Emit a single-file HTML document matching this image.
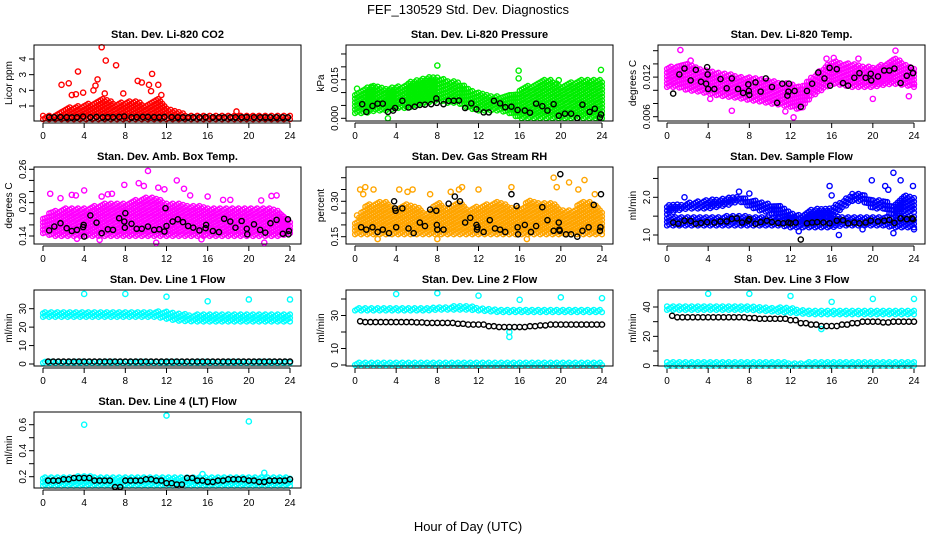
<!DOCTYPE html>
<html><head><meta charset="utf-8"><style>
body{margin:0;background:#fff;}
svg{display:block;font-family:"Liberation Sans",Arial,sans-serif;}
</style></head><body>
<svg id="chart" width="936" height="540" viewBox="0 0 936 540">
<rect width="936" height="540" fill="#fff"/>
<text x="468" y="14" text-anchor="middle" font-size="13">FEF_130529  Std. Dev. Diagnostics</text>
<text x="468" y="531" text-anchor="middle" font-size="13">Hour of Day (UTC)</text>
</svg>
<script>
// ---------- data ----------
const bandHours = [0,1,2,3,4,5,6,7,8,9,10,11,12,13,14,15,16,17,18,19,20,21,22,23,24];
// P1 CO2
const co2BandLo = [0.15,0.15,0.15,0.15,0.15,0.15,0.15,0.15,0.15,0.15,0.15,0.15,0.15,0.15,0.15,0.15,0.15,0.15,0.15,0.15,0.15,0.15,0.15,0.15,0.15];
const co2BandHi = [0.4,0.45,0.8,1.0,1.1,1.3,1.5,1.2,1.3,1.4,1.0,1.6,0.9,0.7,0.45,0.45,0.45,0.45,0.45,0.45,0.45,0.45,0.45,0.45,0.4];
const co2OutX = [1.8,2.5,3.4,5.7,6.1,7.1,9.2,9.6,10.3,10.6,10.5,11.2,5.3,5.1,4.9,2.8,3.9,7.8,18.8,3.2,11.5,6.0];
const co2OutY = [2.35,2.45,3.2,4.75,3.9,3.6,2.6,2.5,2.35,3.05,1.95,2.35,2.7,2.3,2.0,1.7,1.85,1.8,0.65,1.75,1.7,1.8];
const co2BlackX = [0.6,1.1,1.7,2.3,2.8,3.3,3.9,4.6,5.2,5.8,6.3,6.8,7.4,7.9,8.6,9.1,9.7,10.2,10.8,11.3,11.8,12.5,13.1,13.6,14.1,14.6,15.2,15.8,16.5,17.1,17.6,18.2,18.7,19.3,19.8,20.5,21.1,21.6,22.1,22.7,23.3,23.8];
const co2BlackY = [0.28,0.28,0.29,0.28,0.27,0.28,0.32,0.28,0.3,0.28,0.29,0.29,0.3,0.33,0.28,0.29,0.3,0.3,0.29,0.28,0.3,0.29,0.28,0.28,0.27,0.28,0.28,0.29,0.28,0.28,0.27,0.28,0.28,0.28,0.29,0.28,0.28,0.28,0.28,0.28,0.28,0.27];
// P2 Pressure
const presBandLo = [0.002,0.002,0.003,0.003,0.004,0.004,0.005,0.006,0.007,0.006,0.006,0.004,0.003,0.003,0.003,0.002,0.0,0.0,0.0,0.0,0.0,0.0,0.0,0.0,0.0];
const presBandHi = [0.010,0.012,0.013,0.012,0.012,0.014,0.015,0.016,0.016,0.015,0.014,0.012,0.010,0.009,0.009,0.009,0.011,0.013,0.015,0.015,0.013,0.014,0.015,0.015,0.015];
const presOutX = [8.0,15.9,15.9,22.7,23.9,19.8,3.2,1.6,0.2];
const presOutY = [0.0205,0.0185,0.0155,0.0128,0.0188,0.0148,0.0,0.0123,0.0115];
const presBlackX = [0.7,1.1,1.7,2.2,2.7,3.2,3.7,3.9,4.6,5.2,5.8,6.3,6.8,7.4,7.9,7.95,8.6,9.1,9.6,10.1,10.7,11.3,11.8,12.5,13.0,13.5,14.1,14.6,15.2,15.8,16.5,17.0,17.6,18.2,18.7,19.3,19.8,20.4,21.0,21.6,22.1,22.8,23.3,23.8,23.9];
const presBlackY = [0.0055,0.0025,0.0048,0.0057,0.0057,0.0025,0.003,0.004,0.0068,0.0042,0.0045,0.0052,0.0053,0.0055,0.0077,0.006,0.0055,0.0068,0.0068,0.0069,0.004,0.0058,0.0035,0.0023,0.0023,0.0068,0.0058,0.0043,0.0045,0.0032,0.003,0.0022,0.0057,0.0047,0.003,0.0055,0.001,0.0018,0.0018,0.0001,0.0053,0.0025,0.0037,0.0003,0.0015];
// P3 Temp
const tempBandLo = [0.0105,0.0105,0.0100,0.0098,0.0095,0.0092,0.0090,0.0088,0.0085,0.0083,0.0080,0.0078,0.0075,0.0070,0.0090,0.0100,0.0110,0.0108,0.0105,0.0105,0.0105,0.0108,0.0110,0.0108,0.0105];
const tempBandHi = [0.0135,0.0138,0.0140,0.0135,0.0130,0.0128,0.0125,0.0122,0.0120,0.0118,0.0115,0.0112,0.0110,0.0105,0.0120,0.0132,0.0145,0.0142,0.0140,0.0138,0.0135,0.0140,0.0150,0.0142,0.0135];
const tempOutX = [1.3,15.5,16.2,18.6,22.2,6.3,12.3,11.5,20.0,23.5,24.0,2.3,4.2];
const tempOutY = [0.0161,0.0148,0.0149,0.0148,0.016,0.0069,0.0059,0.0068,0.0087,0.0091,0.0109,0.0145,0.0087];
const tempBlackX = [0.6,1.2,1.7,2.3,2.8,3.3,3.8,3.9,3.95,4.0,4.6,5.2,5.8,6.3,6.9,7.4,7.9,7.95,8.0,8.6,9.1,9.6,10.2,10.7,11.2,11.7,11.8,11.85,12.4,13.0,13.6,14.1,14.7,15.3,15.8,15.85,16.5,17.1,17.6,18.2,18.7,19.3,19.8,19.85,20.5,21.1,21.6,22.1,22.7,23.3,23.7,23.9];
const tempBlackY = [0.0095,0.0124,0.0133,0.0115,0.0131,0.0113,0.011,0.0135,0.0124,0.0102,0.0102,0.0117,0.0103,0.0118,0.0102,0.0096,0.0109,0.0099,0.0093,0.0112,0.0098,0.0118,0.0105,0.0081,0.011,0.0092,0.0098,0.011,0.0099,0.0075,0.0099,0.011,0.0127,0.0118,0.0134,0.0107,0.0132,0.0111,0.0107,0.0119,0.0126,0.0119,0.0125,0.0115,0.0121,0.013,0.013,0.0133,0.0111,0.0122,0.0134,0.0126];
// P4 Amb box
const ambBandLo = [0.145,0.14,0.14,0.14,0.14,0.14,0.14,0.14,0.14,0.14,0.14,0.14,0.14,0.14,0.14,0.14,0.14,0.14,0.14,0.14,0.14,0.14,0.14,0.14,0.145];
const ambBandHi = [0.175,0.185,0.19,0.19,0.19,0.195,0.2,0.2,0.2,0.205,0.21,0.21,0.2,0.2,0.195,0.195,0.19,0.19,0.19,0.19,0.19,0.19,0.19,0.185,0.17];
const ambOutX = [0.7,1.7,2.8,3.2,4.0,5.7,6.3,6.7,7.9,9.3,9.8,10.2,11.2,11.8,13.0,13.7,14.3,16.0,17.5,18.2,21.2,22.2,22.7,11.0,5.5,21.5,15.4,3.3];
const ambOutY = [0.216,0.208,0.214,0.213,0.222,0.211,0.215,0.216,0.232,0.235,0.23,0.257,0.227,0.224,0.24,0.225,0.213,0.211,0.205,0.205,0.204,0.212,0.213,0.128,0.133,0.128,0.134,0.135];
const ambBlackX = [0.6,1.1,1.7,2.3,2.8,3.3,3.9,3.95,4.0,4.6,5.2,5.7,6.3,6.8,7.4,7.9,7.95,8.0,8.6,9.1,9.6,10.2,10.8,11.3,11.8,11.9,12.0,12.6,13.1,13.6,14.1,14.6,15.2,15.8,15.85,16.5,17.1,17.6,18.2,18.7,19.3,19.8,19.85,20.5,21.1,21.6,22.1,22.7,23.3,23.8,23.9,23.85];
const ambBlackY = [0.15,0.157,0.163,0.154,0.149,0.151,0.156,0.16,0.139,0.177,0.164,0.145,0.152,0.151,0.172,0.166,0.155,0.181,0.162,0.153,0.153,0.157,0.151,0.152,0.148,0.19,0.158,0.166,0.17,0.165,0.158,0.155,0.15,0.154,0.16,0.149,0.147,0.171,0.166,0.155,0.167,0.153,0.143,0.161,0.151,0.146,0.163,0.169,0.144,0.17,0.149,0.143];
// P5 RH
const rhBandLo = [0.16,0.16,0.16,0.16,0.16,0.16,0.16,0.16,0.16,0.16,0.16,0.16,0.16,0.16,0.16,0.16,0.16,0.16,0.16,0.16,0.16,0.16,0.16,0.16,0.16];
const rhBandHi = [0.21,0.28,0.3,0.3,0.27,0.29,0.28,0.25,0.3,0.27,0.3,0.27,0.28,0.29,0.3,0.28,0.27,0.31,0.29,0.3,0.27,0.26,0.3,0.3,0.26];
const rhOutX = [0.5,1.0,0.8,1.8,4.3,5.1,5.6,7.3,9.3,10.4,10.1,12.0,15.2,19.3,19.6,20.8,21.7,22.3,23.3,16.7,8.0,2.2,0.2];
const rhOutY = [0.35,0.36,0.33,0.35,0.35,0.34,0.35,0.33,0.34,0.36,0.35,0.35,0.36,0.40,0.36,0.38,0.35,0.39,0.33,0.14,0.14,0.14,0.24];
const rhBlackX = [0.6,1.1,1.7,2.2,2.7,3.3,3.8,3.9,3.95,4.0,4.6,5.2,5.7,6.3,6.8,7.3,7.9,7.95,8.0,8.6,9.1,9.7,10.2,10.7,11.2,11.8,11.85,11.9,12.5,13.1,13.6,14.1,14.6,15.2,15.7,15.8,15.85,16.5,17.1,17.6,18.2,18.7,19.3,19.8,19.9,19.85,19.95,20.5,21.0,21.6,22.1,22.7,23.2,23.8,23.85,23.9];
const rhBlackY = [0.19,0.18,0.19,0.17,0.18,0.165,0.30,0.27,0.26,0.19,0.27,0.185,0.165,0.21,0.195,0.265,0.26,0.2,0.18,0.18,0.29,0.32,0.30,0.21,0.23,0.20,0.18,0.19,0.17,0.22,0.185,0.18,0.17,0.33,0.28,0.19,0.16,0.20,0.17,0.195,0.275,0.22,0.175,0.21,0.175,0.18,0.415,0.16,0.16,0.15,0.175,0.19,0.285,0.175,0.19,0.33];
// P6 Sample flow
const sfLowLo = [1.25,1.25,1.25,1.25,1.25,1.25,1.25,1.25,1.25,1.25,1.25,1.25,1.2,1.2,1.2,1.2,1.2,1.25,1.25,1.25,1.25,1.25,1.2,1.2,1.2];
const sfLowHi = [1.5,1.5,1.5,1.5,1.5,1.5,1.52,1.52,1.5,1.5,1.5,1.5,1.48,1.48,1.5,1.5,1.5,1.5,1.5,1.5,1.5,1.5,1.5,1.5,1.5];
const sfUpLo = [1.55,1.65,1.7,1.7,1.7,1.75,1.8,1.9,1.75,1.65,1.6,1.45,1.35,1.3,1.35,1.4,1.5,1.7,1.9,1.9,1.7,1.7,1.5,1.6,1.6];
const sfUpHi = [1.8,1.82,1.85,1.9,1.95,1.95,2.0,2.05,1.95,1.9,1.85,1.8,1.6,1.55,1.7,1.7,1.75,1.9,2.1,2.1,1.95,1.95,1.8,2.1,2.0];
const sfOutX = [1.7,15.8,16.0,19.9,21.5,22.0,22.7,21.2,23.9,22.0,16.7,12.8,19.0,24.0,8.0,7.0];
const sfOutY = [2.0,2.3,2.05,2.45,2.2,2.65,2.45,2.3,2.3,1.05,1.0,1.1,1.15,1.15,2.1,2.15];
const sfBlackX = [0.6,1.1,1.7,2.3,2.8,3.3,3.9,4.6,5.2,5.8,6.3,6.8,7.3,7.9,8.0,8.6,9.1,9.7,10.2,10.8,11.3,11.8,12.0,12.5,13.0,13.6,14.1,14.6,15.2,15.8,16.5,17.1,17.6,18.2,18.7,19.3,19.8,20.5,21.1,21.6,22.1,22.7,23.3,23.8,23.9];
const sfBlackY = [1.33,1.3,1.38,1.37,1.3,1.32,1.34,1.33,1.36,1.36,1.43,1.44,1.33,1.38,1.42,1.3,1.34,1.38,1.34,1.32,1.31,1.33,1.31,1.33,0.88,1.31,1.33,1.34,1.33,1.31,1.38,1.39,1.31,1.33,1.31,1.33,1.38,1.36,1.38,1.4,1.32,1.44,1.42,1.44,1.42];
// P7 Line 1
const l1BandLo = [25.5,25.5,25.5,25.5,25.5,25.5,25.5,25.5,25.5,25.5,25.5,25.5,24.5,23.5,23.2,23,23,23,23,23,23,23,23,23,23];
const l1BandHi = [28.5,28.5,28.5,28.5,28.5,28.5,28.5,28.5,28.5,28.5,28.5,28.5,29,28,27,27,27,27,27,27,27,27,27,27,27];
const l1LowLo = [0.6,0.6,0.6,0.6,0.6,0.6,0.6,0.6,0.6,0.6,0.6,0.6,0.6,0.6,0.6,0.6,0.6,0.6,0.6,0.6,0.6,0.6,0.6,0.6,0.6];
const l1LowHi = [1.8,1.8,1.8,1.8,1.8,1.8,1.8,1.8,1.8,1.8,1.8,1.8,1.8,1.8,1.8,1.8,1.8,1.8,1.8,1.8,1.8,1.8,1.8,1.8,1.8];
const l1OutX = [4,8,12,16,20,24];
const l1OutY = [38,38,36.5,34,35,35];
const l1Black = [1.3,1.3,1.3,1.3,1.3,1.3,1.3,1.3,1.3,1.3,1.3,1.3,1.3,1.3,1.3,1.3,1.3,1.3,1.3,1.3,1.3,1.3,1.3,1.3,1.3];
// P8 Line 2
const l2BandLo = [33,33,33,33,33,33,33,33,33.5,33.5,33.5,33.5,33,32.5,32,32,32,32,32,32,32,32,32,32,32];
const l2BandHi = [35,35,35,35,35,35,35,35,35.5,35.5,36,36,35,34.5,34,34,34,34,34,34,34,34,34,34,34];
const l2LowLo = [0,0,0,0,0,0,0,0,0,0,0,0,0,0,0,0,0,0,0,0,0,0,0,0,0];
const l2LowHi = [1.5,1.5,1.5,1.5,1.5,1.5,1.5,1.5,1.5,1.5,1.5,1.5,1.5,1.5,1.5,1.5,1.5,1.5,1.5,1.5,1.5,1.5,1.5,1.5,1.5];
const l2OutX = [4,8,12,16,20,24,15,15];
const l2OutY = [43,43.5,42,39.5,41,40.5,17,20];
const l2Black = [26.5,26,26,26,26,26,25.8,25.5,25.5,25.5,25,24.5,24.5,23.5,23,23,23,23.5,24,24.5,24.5,24.5,24.5,24.5,24.5];
// P9 Line 3
const l3BandLo = [38,38,38,38,38,38,38,38,38,37.5,37,36.5,36,35.5,35,35,35,35,35,35,35,35,35,35,35];
const l3BandHi = [41,41,41,41,41,41,41,41,41,40.5,40,40,39.5,38.5,38,38,38,38,38,38,38,38,38,38,38];
const l3LowLo = [0,0,0,0,0,0,0,0,0,0,0,0,0,0,0,0,0,0,0,0,0,0,0,0,0];
const l3LowHi = [3,3,3,3,3,3,3,3,3,3,3,3,2,2,3,3,3,3,3,3,3,3,3,3,3];
const l3OutX = [4,8,12,16,20,24,15];
const l3OutY = [49,49,47.5,43.5,45.5,45.5,25];
const l3Black = [34,33,33,33,33,33,33,33,32.5,32,32,32,31,29,28,27,27,28,29,30,30,29.5,30,30,30];
// P10 Line 4
const l4BandLo = [0.13,0.13,0.13,0.13,0.13,0.13,0.13,0.13,0.13,0.13,0.13,0.13,0.13,0.13,0.13,0.13,0.13,0.13,0.13,0.13,0.13,0.13,0.13,0.13,0.13];
const l4BandHi = [0.2,0.2,0.2,0.2,0.21,0.2,0.2,0.2,0.2,0.2,0.2,0.2,0.2,0.2,0.2,0.2,0.2,0.2,0.2,0.2,0.2,0.2,0.2,0.2,0.2];
const l4OutX = [4,12,20,21.5,15.5];
const l4OutY = [0.6,0.67,0.625,0.23,0.22];
const l4Black = [0.17,0.17,0.18,0.19,0.19,0.17,0.17,0.12,0.17,0.17,0.18,0.17,0.15,0.14,0.19,0.17,0.16,0.17,0.18,0.18,0.17,0.16,0.17,0.17,0.18];

// ---------- drawing ----------
const NS = 'http://www.w3.org/2000/svg';
const svg = document.getElementById('chart');
function mk(tag, attrs, parent){ const e=document.createElementNS(NS,tag); for(const k in attrs) e.setAttribute(k,attrs[k]); (parent||svg).appendChild(e); return e; }
function interp(arr, h){ const i=Math.min(23,Math.max(0,Math.floor(h))); const f=h-i; return arr[i]*(1-f)+arr[i+1]*f; }

function panel(col,row,title,ylab,ymap,ticks,labels){
  const left=34+312*col, right=left+267;
  const top=[45,167,290,412][row], bottom=[121,244,366,488][row];
  const g=mk('g',{});
  
  
  const xs=h=>left+9+h*(247/24);
  const t=mk('text',{x:(left+right)/2,y:top-7,'text-anchor':'middle','font-size':11,'font-weight':'bold'},g);
  t.textContent=title;
  
  
  const yl=mk('text',{x:0,y:0,'text-anchor':'middle','font-size':10,transform:`translate(${left-22},${(top+bottom)/2}) rotate(-90)`},g);
  yl.textContent=ylab;
  
  
  ticks.forEach((v,i)=>{
    const y=ymap(v);
    mk('line',{x1:left-5,x2:left,y1:y,y2:y,stroke:'#000'},g);
    if(labels[i]){
      const tl=mk('text',{x:0,y:0,'text-anchor':'middle','font-size':10,transform:`translate(${left-8},${y}) rotate(-90)`},g);
      tl.textContent=labels[i];
      
      
    }
  });
  mk('line',{x1:xs(0),x2:xs(24),y1:bottom+2,y2:bottom+2,stroke:'#000'},g);
  for(let h=0;h<=24;h+=4){
    const x=xs(h);
    mk('line',{x1:x,x2:x,y1:bottom+2,y2:bottom+7,stroke:'#000'},g);
    const xl=mk('text',{x:x,y:bottom+18,'text-anchor':'middle','font-size':10},g);
    xl.textContent=String(h);
    
    
  }
  const plot=mk('g',{fill:'none','stroke-width':1.4},g);
  
  
  const api={
    band(lo,hi,c){
      const bg=mk('g',{stroke:c},plot);
      
      
      let k=0;
      for(let h=0;h<=24.001;h+=0.2){
        const y1=ymap(interp(lo,h)), y2=ymap(interp(hi,h));
        const off=(k%3)*1.2; k++;
        for(let y=y1-off;y>=y2;y-=3.6){
          mk('circle',{cx:xs(h),cy:y,r:2.4},bg);
        }
      }
    },
    pts(xa,ya,c){
      const pg=mk('g',{stroke:c},plot);
      
      
      xa.forEach((h,i)=>{ const p=mk('circle',{cx:xs(h),cy:ymap(ya[i]),r:2.6},pg);
        
         });
    },
    hourly(vals,c){
      const pg=mk('g',{stroke:c},plot);
      
      
      vals.forEach((v,i)=>{ [0,0.5].forEach(d=>{ const h=bandHours[i]+d; if(h>24||(i===0&&d===0)) return;
        const p=mk('circle',{cx:xs(h),cy:ymap(v),r:2.6},pg);
        
         }); });
    },
    frame(){ mk('rect',{x:left,y:top,width:right-left,height:bottom-top,fill:'none',stroke:'#000'},g); }
  };
  return api;
}
const lin=(v0,p0,v1,p1)=>v=>p0+(v-v0)*(p1-p0)/(v1-v0);

let p;
p=panel(0,0,'Stan. Dev. Li-820 CO2','Licor ppm',lin(1,106,4,59),[1,2,3,4],['1','2','3','4']);
p.band(co2BandLo,co2BandHi,'#ff0000'); p.pts(co2OutX,co2OutY,'#ff0000'); p.pts(co2BlackX,co2BlackY,'#000'); p.frame();

p=panel(1,0,'Stan. Dev. Li-820 Pressure','kPa',lin(0,118.3,0.015,79.7),[0,0.005,0.01,0.015,0.02,0.025],['0.000','','','0.015','','']);
p.band(presBandLo,presBandHi,'#00ee00'); p.pts(presOutX,presOutY,'#00ee00'); p.pts(presBlackX,presBlackY,'#000'); p.frame();

p=panel(2,0,'Stan. Dev. Li-820 Temp.','degrees C',lin(0.006,116.7,0.016,50.7),[0.006,0.008,0.010,0.012,0.014,0.016],['0.006','','','0.012','','']);
p.band(tempBandLo,tempBandHi,'#ff00ff'); p.pts(tempOutX,tempOutY,'#ff00ff'); p.pts(tempBlackX,tempBlackY,'#000'); p.frame();

p=panel(0,1,'Stan. Dev. Amb. Box Temp.','degrees C',lin(0.14,236,0.26,169.3),[0.14,0.16,0.18,0.2,0.22,0.24,0.26],['0.14','','','0.20','','','0.26']);
p.band(ambBandLo,ambBandHi,'#ff00ff'); p.pts(ambOutX,ambOutY,'#ff00ff'); p.pts(ambBlackX,ambBlackY,'#000'); p.frame();

p=panel(1,1,'Stan. Dev. Gas Stream RH','percent',lin(0.15,236.7,0.40,177.7),[0.15,0.2,0.25,0.3,0.35,0.4],['0.15','','','0.30','','']);
p.band(rhBandLo,rhBandHi,'#ffa500'); p.pts(rhOutX,rhOutY,'#ffa500'); p.pts(rhBlackX,rhBlackY,'#000'); p.frame();

p=panel(2,1,'Stan. Dev. Sample Flow','ml/min',lin(1.0,235,2.0,197.3),[1.0,1.5,2.0,2.5],['1.0','','2.0','']);
p.band(sfLowLo,sfLowHi,'#0000ff'); p.band(sfUpLo,sfUpHi,'#0000ff'); p.pts(sfOutX,sfOutY,'#0000ff'); p.pts(sfBlackX,sfBlackY,'#000'); p.frame();

p=panel(0,2,'Stan. Dev. Line 1 Flow','ml/min',lin(0,364,30,308.7),[0,10,20,30],['0','10','20','30']);
p.band(l1BandLo,l1BandHi,'#00ffff'); p.band(l1LowLo,l1LowHi,'#00ffff'); p.pts(l1OutX,l1OutY,'#00ffff'); p.hourly(l1Black,'#000'); p.frame();

p=panel(1,2,'Stan. Dev. Line 2 Flow','ml/min',lin(0,365,10,348.5),[0,10,20,30,40],['0','10','','30','']);
p.band(l2BandLo,l2BandHi,'#00ffff'); p.band(l2LowLo,l2LowHi,'#00ffff'); p.pts(l2OutX,l2OutY,'#00ffff'); p.hourly(l2Black,'#000'); p.frame();

p=panel(2,2,'Stan. Dev. Line 3 Flow','ml/min',lin(0,365.7,40,307),[0,10,20,30,40],['0','','20','','40']);
p.band(l3BandLo,l3BandHi,'#00ffff'); p.band(l3LowLo,l3LowHi,'#00ffff'); p.pts(l3OutX,l3OutY,'#00ffff'); p.hourly(l3Black,'#000'); p.frame();

p=panel(0,3,'Stan. Dev. Line 4 (LT) Flow','ml/min',lin(0.2,476.7,0.6,424.7),[0.2,0.3,0.4,0.5,0.6],['0.2','','0.4','','0.6']);
p.band(l4BandLo,l4BandHi,'#00ffff'); p.pts(l4OutX,l4OutY,'#00ffff'); p.hourly(l4Black,'#000'); p.frame();
</script>
</body></html>
